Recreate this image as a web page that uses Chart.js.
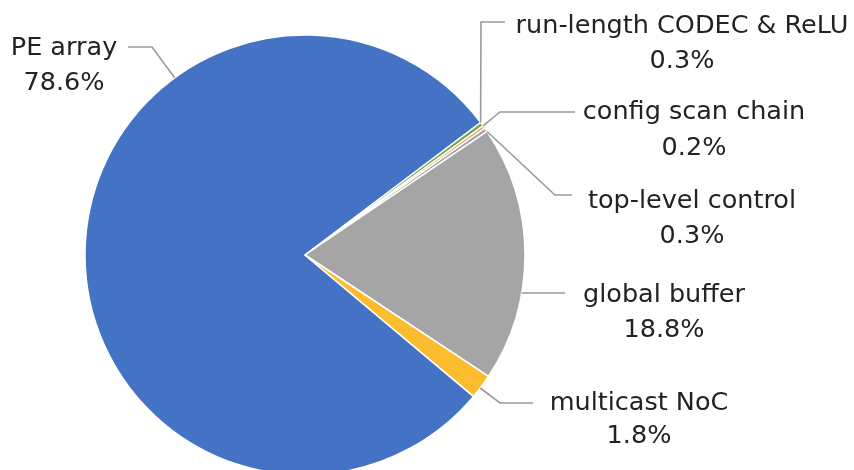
<!DOCTYPE html>
<html>
<head>
<meta charset="utf-8">
<script src="https://cdn.jsdelivr.net/npm/chart.js@4.4.1/dist/chart.umd.min.js"></script>
<style>
  html, body { margin: 0; padding: 0; background: #ffffff; }
  #wrap { width: 854px; height: 470px; position: relative; }
</style>
</head>
<body>
<div id="wrap"><canvas id="c" width="854" height="470"></canvas></div>
<script>
// ---- data ----
const categories = ["PE array", "run-length CODEC & ReLU", "config scan chain", "top-level control", "global buffer", "multicast NoC"];
const shares = [78.6, 0.3, 0.2, 0.3, 18.8, 1.8];
const valueLabels = ["78.6%", "0.3%", "0.2%", "0.3%", "18.8%", "1.8%"];

// ---- style ----
const sliceColors = ["#4472C4", "#70AD47", "#ED7D31", "#A5A5A5", "#A5A5A5", "#FBBC2E"];
const FONT = '25.5px "DejaVu Sans", sans-serif';
// label layout: text centre x, baseline of first line, baseline of second line, leader points (elbow.., end)
const labelLayout = [
  { x: 64,  y1: 55,  y2: 90,  leader: [[152, 47], [128, 47]] },
  { x: 682, y1: 33,  y2: 68,  leader: [[481, 22], [505, 22]] },
  { x: 694, y1: 119, y2: 155, leader: [[500, 112], [575, 112]] },
  { x: 692, y1: 208, y2: 243, leader: [[555, 195], [572, 195]] },
  { x: 664, y1: 302, y2: 337, leader: [[565, 293]], level: true },
  { x: 639, y1: 410, y2: 443, leader: [[500, 403], [533, 403]] }
];

const labelPlugin = {
  id: 'pieLabels',
  afterDatasetsDraw(chart) {
    const ctx = chart.ctx;
    const meta = chart.getDatasetMeta(0);
    ctx.save();
    meta.data.forEach((arc, i) => {
      const p = arc.getProps(['x', 'y', 'startAngle', 'endAngle', 'outerRadius'], true);
      const L = labelLayout[i];
      const first = L.leader[0];
      const TWO = Math.PI * 2;
      let a;
      if (L.level) {
        // leader leaves the rim horizontally at the label's height
        a = Math.asin(Math.max(-1, Math.min(1, (first[1] - p.y) / p.outerRadius)));
      } else {
        a = Math.atan2(first[1] - p.y, first[0] - p.x);
      }
      let s = p.startAngle, e = p.endAngle;
      while (a < s) a += TWO;
      while (a >= s + TWO) a -= TWO;
      if (a > e) {
        const dE = a - e, dS = s + TWO - a;
        a = dE < dS ? e : s;
      }
      const sx = p.x + Math.cos(a) * p.outerRadius;
      const sy = p.y + Math.sin(a) * p.outerRadius;
      ctx.strokeStyle = '#9A9A9A';
      ctx.lineWidth = 1.6;
      ctx.beginPath();
      ctx.moveTo(sx, sy);
      L.leader.forEach(pt => ctx.lineTo(pt[0], pt[1]));
      ctx.stroke();

      ctx.fillStyle = '#222222';
      ctx.font = FONT;
      ctx.textAlign = 'center';
      ctx.textBaseline = 'alphabetic';
      ctx.fillText(categories[i], L.x, L.y1);
      ctx.fillText(valueLabels[i], L.x, L.y2);
    });
    ctx.restore();
  }
};

new Chart(document.getElementById('c'), {
  type: 'pie',
  data: {
    labels: categories,
    datasets: [{
      data: shares,
      backgroundColor: sliceColors,
      borderColor: '#ffffff',
      borderWidth: 1.5,
      radius: 220,
      clip: false
    }]
  },
  options: {
    responsive: false,
    animation: false,
    rotation: 130,
    layout: { padding: { left: 85, right: 329, top: 40, bottom: 0 } },
    plugins: {
      legend: { display: false },
      tooltip: { enabled: false },
      title: { display: false }
    }
  },
  plugins: [labelPlugin]
});
</script>
</body>
</html>
